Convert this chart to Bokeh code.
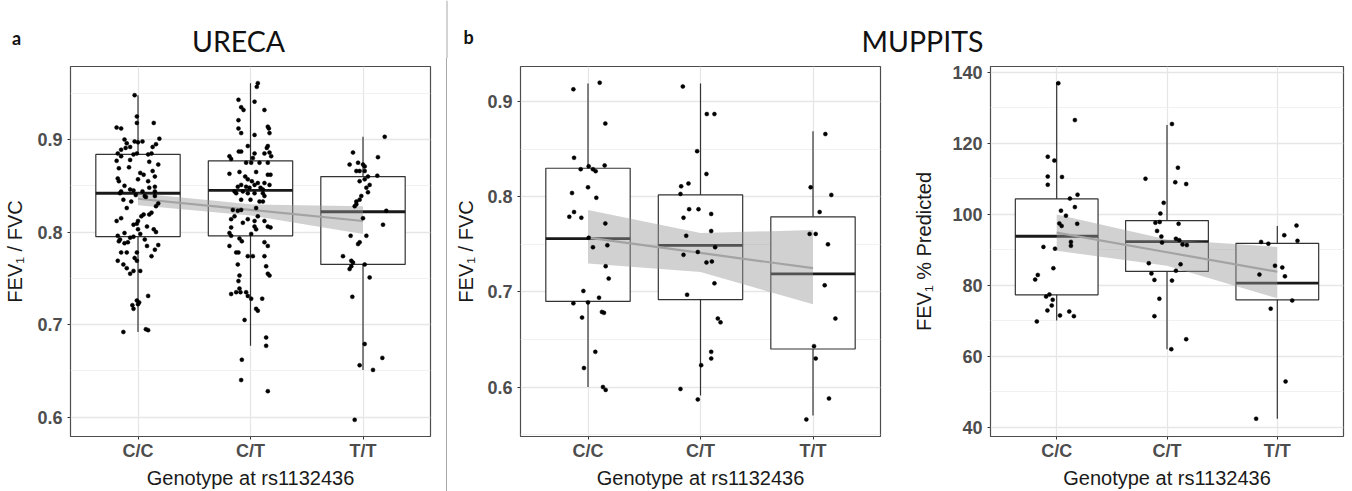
from bokeh.plotting import figure
from bokeh.layouts import row, column
from bokeh.models import Range1d, FixedTicker, Div
from bokeh.core.properties import value
from bokeh.embed import file_html
from bokeh.resources import INLINE

genotypes = ["C/C", "C/T", "T/T"]

# ---------------- URECA FEV1/FVC ----------------
ureca_cc_y = [0.948, 0.913, 0.912, 0.925, 0.918, 0.918, 0.900, 0.896, 0.891, 0.898, 0.897, 0.892, 0.898, 0.892,
              0.895, 0.901, 0.885, 0.882, 0.884, 0.885, 0.884, 0.885, 0.877, 0.878, 0.873, 0.864, 0.857, 0.858,
              0.855, 0.866, 0.860, 0.855, 0.844, 0.842, 0.846, 0.845, 0.835, 0.844, 0.839, 0.844, 0.839, 0.831,
              0.828, 0.849, 0.833, 0.812, 0.812, 0.809, 0.817, 0.819, 0.819, 0.803, 0.808, 0.803, 0.800, 0.796,
              0.792, 0.790, 0.799, 0.794, 0.795, 0.792, 0.786, 0.789, 0.785, 0.778, 0.778, 0.778, 0.772, 0.769,
              0.774, 0.769, 0.765, 0.761, 0.758, 0.758, 0.755, 0.731, 0.726, 0.724, 0.722, 0.721, 0.717, 0.692,
              0.695, 0.694, 0.870, 0.862, 0.850, 0.848, 0.840, 0.838, 0.826, 0.821, 0.815, 0.806, 0.798, 0.788,
              0.781, 0.876, 0.889, 0.869]
ureca_cc_dx = [-0.03, -0.19, -0.15, -0.01, -0.01, 0.14, -0.12, -0.10, -0.11, -0.03, 0.00, -0.07, 0.04, 0.13,
               0.16, 0.19, -0.18, -0.15, -0.04, -0.01, 0.09, 0.12, -0.19, -0.07, 0.18, 0.02, 0.00, -0.18,
               -0.17, 0.13, 0.15, 0.09, -0.15, -0.16, -0.07, -0.04, -0.13, 0.04, 0.06, 0.15, 0.15, 0.18,
               0.16, 0.15, -0.06, -0.19, 0.00, -0.01, 0.03, 0.05, 0.10, 0.00, -0.04, 0.14, 0.16, -0.18,
               -0.16, -0.17, -0.12, -0.07, -0.04, 0.06, 0.18, -0.09, 0.08, -0.15, -0.10, -0.01, -0.03, -0.01,
               0.12, -0.18, -0.13, -0.10, -0.04, 0.02, -0.07, 0.09, -0.01, 0.01, 0.00, -0.05, -0.04, -0.13,
               0.07, 0.09, -0.08, 0.05, -0.12, 0.10, -0.02, 0.07, -0.10, 0.12, -0.15, 0.08, 0.02, -0.12,
               0.15, 0.10, -0.15, -0.17]
ureca_ct_y = [0.961, 0.957, 0.943, 0.941, 0.935, 0.932, 0.932, 0.921, 0.914, 0.912, 0.907, 0.912, 0.907, 0.905,
              0.893, 0.893, 0.891, 0.882, 0.879, 0.887, 0.887, 0.885, 0.885, 0.886, 0.882, 0.880, 0.875, 0.875,
              0.875, 0.875, 0.863, 0.865, 0.860, 0.862, 0.862, 0.865, 0.857, 0.855, 0.851, 0.849, 0.851, 0.853,
              0.853, 0.851, 0.849, 0.848, 0.848, 0.846, 0.844, 0.842, 0.844, 0.842, 0.842, 0.839, 0.842, 0.835,
              0.835, 0.833, 0.833, 0.824, 0.823, 0.824, 0.826, 0.814, 0.812, 0.817, 0.814, 0.805, 0.810, 0.806,
              0.803, 0.806, 0.805, 0.812, 0.817, 0.799, 0.796, 0.793, 0.790, 0.798, 0.789, 0.785, 0.785, 0.778,
              0.778, 0.774, 0.774, 0.774, 0.765, 0.763, 0.753, 0.755, 0.753, 0.747, 0.739, 0.735, 0.735, 0.733,
              0.735, 0.731, 0.728, 0.728, 0.717, 0.715, 0.705, 0.686, 0.677, 0.662, 0.640, 0.628]
ureca_ct_dx = [0.065, 0.056, -0.107, 0.036, -0.083, -0.062, 0.124, -0.107, 0.154, 0.163, 0.169, -0.107, -0.083,
               0.036, -0.024, 0.154, 0.145, -0.187, -0.172, -0.104, -0.083, 0.036, 0.124, 0.169, 0.184, 0.021,
               -0.039, 0.006, 0.080, 0.154, -0.187, -0.098, -0.047, 0.154, 0.178, 0.050, -0.024, 0.012, -0.083,
               -0.113, 0.036, 0.065, 0.124, 0.169, -0.039, -0.009, 0.089, 0.110, -0.142, -0.127, -0.068, -0.024,
               0.110, 0.124, 0.036, -0.083, 0.000, 0.080, 0.110, -0.157, -0.113, -0.083, 0.050, -0.024, 0.036,
               -0.142, -0.172, -0.172, -0.068, 0.036, 0.050, 0.154, 0.178, 0.124, 0.065, -0.187, -0.172, -0.098,
               -0.077, 0.006, 0.124, 0.154, -0.187, -0.127, -0.107, 0.124, -0.024, 0.021, -0.113, 0.139, -0.098,
               0.154, 0.169, -0.107, -0.098, -0.089, -0.127, -0.172, -0.039, -0.024, 0.006, 0.104, 0.050, 0.065,
               -0.053, 0.139, 0.139, -0.077, -0.083, 0.154]
ureca_tt_y = [0.903, 0.886, 0.881, 0.873, 0.875, 0.873, 0.871, 0.866, 0.866, 0.866, 0.860, 0.861, 0.855, 0.857,
              0.851, 0.848, 0.843, 0.839, 0.835, 0.833, 0.830, 0.828, 0.823, 0.815, 0.808, 0.796, 0.796, 0.789,
              0.787, 0.774, 0.769, 0.767, 0.765, 0.763, 0.760, 0.751, 0.730, 0.679, 0.656, 0.651, 0.664, 0.597]
ureca_tt_dx = [0.193, -0.089, 0.133, -0.119, -0.044, 0.000, 0.015, -0.059, -0.030, 0.015, 0.044, 0.127, -0.030,
               0.015, 0.059, 0.030, 0.044, -0.015, -0.030, -0.059, -0.059, -0.074, 0.207, 0.000, 0.178, -0.110,
               0.030, -0.030, -0.044, -0.178, -0.104, -0.089, 0.015, -0.104, -0.119, 0.059, -0.095, 0.015,
               -0.030, 0.089, 0.172, -0.074]
# box statistics per genotype: lower whisker, Q1, median, Q3, upper whisker
ureca_lo = [0.692, 0.677, 0.651]
ureca_q1 = [0.795, 0.796, 0.765]
ureca_med = [0.842, 0.845, 0.822]
ureca_q3 = [0.884, 0.877, 0.860]
ureca_hi = [0.948, 0.961, 0.903]
# linear fit and 95% band at each genotype
ureca_fit = [0.836, 0.824, 0.812]
ureca_fit_lo = [0.829, 0.818, 0.798]
ureca_fit_hi = [0.842, 0.830, 0.828]

# ---------------- MUPPITS FEV1/FVC ----------------
mup_cc_y = [0.913, 0.920, 0.877, 0.841, 0.829, 0.832, 0.829, 0.827, 0.833, 0.804, 0.810, 0.799, 0.779, 0.784,
            0.778, 0.772, 0.757, 0.747, 0.749, 0.727, 0.714, 0.701, 0.694, 0.688, 0.689, 0.679, 0.678, 0.673,
            0.637, 0.620, 0.600, 0.597]
mup_cc_dx = [-0.130, 0.104, 0.154, -0.124, -0.065, 0.006, 0.044, 0.068, 0.148, -0.142, 0.000, 0.074, -0.166,
             -0.124, -0.059, 0.154, 0.006, 0.044, 0.172, 0.157, 0.184, -0.041, 0.098, -0.130, 0.000, 0.124,
             0.142, -0.053, 0.065, -0.036, 0.133, 0.157]
mup_ct_y = [0.916, 0.887, 0.887, 0.848, 0.824, 0.814, 0.811, 0.803, 0.787, 0.787, 0.778, 0.782, 0.759, 0.764,
            0.742, 0.739, 0.747, 0.731, 0.732, 0.709, 0.697, 0.672, 0.668, 0.637, 0.630, 0.623, 0.598, 0.587]
mup_ct_dx = [-0.157, 0.056, 0.124, -0.030, 0.053, -0.107, -0.172, -0.178, -0.101, -0.018, -0.151, 0.095,
             -0.127, 0.095, -0.024, -0.151, 0.130, 0.053, 0.101, 0.124, -0.119, 0.154, 0.178, 0.095, 0.095,
             0.006, -0.178, -0.024]
mup_tt_y = [0.866, 0.810, 0.802, 0.784, 0.761, 0.761, 0.750, 0.707, 0.672, 0.643, 0.630, 0.588, 0.566]
mup_tt_dx = [0.110, -0.021, 0.163, 0.059, -0.030, 0.024, 0.133, 0.104, 0.199, 0.009, 0.024, 0.142, -0.059]
mup_lo = [0.600, 0.591, 0.570]
mup_q1 = [0.690, 0.692, 0.640]
mup_med = [0.756, 0.749, 0.719]
mup_q3 = [0.830, 0.802, 0.779]
mup_hi = [0.919, 0.919, 0.869]
mup_fit = [0.757, 0.741, 0.725]
mup_fit_lo = [0.730, 0.721, 0.687]
mup_fit_hi = [0.786, 0.762, 0.765]

# ---------------- MUPPITS FEV1 % predicted ----------------
pp_cc_y = [136.9, 126.5, 116.2, 115.1, 110.6, 110.5, 108.3, 105.5, 104.4, 102.0, 101.0, 99.6, 97.4, 96.7, 97.3,
           92.2, 91.1, 90.8, 90.3, 84.8, 82.9, 81.6, 76.8, 77.4, 75.9, 74.3, 72.9, 71.5, 72.6, 71.3, 69.8]
pp_cc_dx = [0.015, 0.165, -0.081, -0.021, -0.081, 0.048, -0.081, 0.189, 0.120, 0.165, 0.039, 0.084, 0.024,
            0.045, 0.186, 0.129, 0.129, -0.120, -0.015, -0.030, -0.171, -0.195, -0.096, -0.066, -0.036, -0.045,
            -0.084, 0.030, 0.114, 0.156, -0.180]
pp_ct_y = [125.4, 110.0, 113.1, 109.0, 108.5, 103.2, 100.2, 97.6, 97.8, 97.3, 95.3, 93.7, 92.0, 93.1, 92.7, 91.5,
           91.3, 86.2, 85.9, 83.3, 81.5, 84.1, 81.3, 76.2, 71.3, 64.8, 62.0]
pp_ct_dx = [0.045, -0.195, 0.099, 0.075, 0.174, -0.030, -0.060, -0.105, -0.066, 0.105, -0.090, -0.051, -0.045,
            0.081, 0.111, 0.141, 0.180, -0.165, 0.123, -0.141, -0.114, 0.081, 0.045, -0.069, -0.114, 0.174, 0.039]
pp_tt_y = [96.8, 94.1, 92.2, 91.7, 92.5, 85.5, 85.0, 83.0, 82.5, 75.7, 73.4, 52.9, 42.4]
pp_tt_dx = [0.174, 0.063, -0.147, -0.081, 0.183, -0.021, 0.045, -0.162, 0.069, 0.135, -0.060, 0.075, -0.192]
pp_lo = [70.1, 62.0, 42.4]
pp_q1 = [77.3, 83.9, 75.9]
pp_med = [93.8, 92.3, 80.6]
pp_q3 = [104.3, 98.2, 91.8]
pp_hi = [137.2, 125.1, 96.7]
pp_fit = [94.8, 89.3, 83.8]
pp_fit_lo = [89.7, 85.5, 76.3]
pp_fit_hi = [99.9, 92.9, 90.8]

ratio_ticks_a = [0.6, 0.7, 0.8, 0.9]
ratio_minor_a = [0.55, 0.65, 0.75, 0.85, 0.95]
ratio_ticks_b = [0.6, 0.7, 0.8, 0.9]
ratio_minor_b = [0.55, 0.65, 0.75, 0.85, 0.95]
pp_ticks = [40, 60, 80, 100, 120, 140]
pp_minor = [50, 70, 90, 110, 130]

TICK_FONT = "Arial"
FIG_H = 433
HDR_H = 58


def panel(width, mbl, mbr, yr, ticks, minor, ylabel, groups, lo, q1, med, q3, hi, fit, fit_lo, fit_hi,
          label_standoff):
    p = figure(width=width, height=FIG_H, x_range=Range1d(0.4, 3.6), y_range=Range1d(*yr),
               output_backend="svg", toolbar_location=None,
               min_border_left=mbl, min_border_right=mbr, min_border_top=8, min_border_bottom=52)
    p.background_fill_color = "white"
    p.border_fill_color = "white"
    p.outline_line_color = "#4d4d4d"
    p.outline_line_width = 1.2

    xs = [i + 1 for i in range(len(genotypes))]
    # grids
    p.xgrid.ticker = FixedTicker(ticks=xs)
    p.xgrid.grid_line_color = "#e6e6e6"
    p.xgrid.grid_line_width = 1.3
    p.ygrid.ticker = FixedTicker(ticks=ticks, minor_ticks=minor)
    p.ygrid.grid_line_color = "#e6e6e6"
    p.ygrid.grid_line_width = 1.3
    p.ygrid.minor_grid_line_color = "#efefef"
    p.ygrid.minor_grid_line_width = 0.9

    # axes
    p.xaxis.ticker = FixedTicker(ticks=xs)
    p.xaxis.major_label_overrides = {x: g for x, g in zip(xs, genotypes)}
    p.yaxis.ticker = FixedTicker(ticks=ticks)
    p.xaxis.axis_label = "Genotype at rs1132436"
    p.yaxis.axis_label = ylabel
    for ax in (p.xaxis[0], p.yaxis[0]):
        ax.axis_line_color = None
        ax.major_tick_line_color = "#333333"
        ax.major_tick_in = 0
        ax.major_tick_out = 3
        ax.minor_tick_line_color = None
        ax.major_label_text_font = TICK_FONT
        ax.major_label_text_font_style = "bold"
        ax.major_label_text_font_size = "18px"
        ax.major_label_text_color = "#4d4d4d"
        ax.axis_label_text_font = TICK_FONT
        ax.axis_label_text_font_style = "normal"
        ax.axis_label_text_font_size = "20px"
        ax.axis_label_text_color = "#1a1a1a"
    p.xaxis.major_label_standoff = 1
    p.xaxis.axis_label_standoff = 3
    p.yaxis.major_label_standoff = 5
    p.yaxis.axis_label_standoff = label_standoff

    # boxes
    p.vbar(x=xs, top=q3, bottom=q1, width=0.75, fill_color="white", line_color="#333333", line_width=1.2)
    p.segment(x0=xs, y0=q3, x1=xs, y1=hi, line_color="#333333", line_width=1.2)
    p.segment(x0=xs, y0=q1, x1=xs, y1=lo, line_color="#333333", line_width=1.2)
    p.segment(x0=[x - 0.375 for x in xs], y0=med, x1=[x + 0.375 for x in xs], y1=med,
              line_color="#1a1a1a", line_width=2.8)

    # regression band and line
    p.varea(x=xs, y1=fit_lo, y2=fit_hi, fill_color="#999999", fill_alpha=0.45)
    p.line(x=xs, y=fit, line_color="#a3a3a3", line_width=2.2)

    # jittered points
    for i, (yv, dx) in enumerate(groups):
        p.scatter(x=[xs[i] + d for d in dx], y=yv, size=4.0, fill_color="black", line_color="black",
                  line_width=0.5)
    return p


pA = panel(446, 70, 16, (0.579, 0.979), ratio_ticks_a, ratio_minor_a, "FEV\u2081 / FVC",
           [(ureca_cc_y, ureca_cc_dx), (ureca_ct_y, ureca_ct_dx), (ureca_tt_y, ureca_tt_dx)],
           ureca_lo, ureca_q1, ureca_med, ureca_q3, ureca_hi, ureca_fit, ureca_fit_lo, ureca_fit_hi, 8)
pB1 = panel(463, 73, 30, (0.548, 0.937), ratio_ticks_b, ratio_minor_b, "FEV\u2081 / FVC",
            [(mup_cc_y, mup_cc_dx), (mup_ct_y, mup_ct_dx), (mup_tt_y, mup_tt_dx)],
            mup_lo, mup_q1, mup_med, mup_q3, mup_hi, mup_fit, mup_fit_lo, mup_fit_hi, 7)
pB2 = panel(442, 77, 9, (37.4, 141.6), pp_ticks, pp_minor, "FEV\u2081 % Predicted",
            [(pp_cc_y, pp_cc_dx), (pp_ct_y, pp_ct_dx), (pp_tt_y, pp_tt_dx)],
            pp_lo, pp_q1, pp_med, pp_q3, pp_hi, pp_fit, pp_fit_lo, pp_fit_hi, 14)

# header with panel letters, titles and separator
hdr = figure(width=1352, height=HDR_H, x_range=Range1d(0, 1352), y_range=Range1d(0, HDR_H),
             output_backend="svg", toolbar_location=None, min_border=0,
             x_axis_location=None, y_axis_location=None)
hdr.grid.visible = False
hdr.outline_line_color = None
hdr.background_fill_color = "white"
hdr.border_fill_color = "white"
hdr.text(x=[16, 468], y=[21, 22], text=["a", "b"], text_font=value("Lato"), text_font_style="bold",
         text_font_size="18px", text_align="center", text_baseline="middle", text_color="#111111")
hdr.text(x=[238, 922], y=[18, 18], text=["URECA", "MUPPITS"], text_font=value("Lato"),
         text_font_size="28.5px", text_align="center", text_baseline="middle", text_color="#111111")
hdr.segment(x0=[446.5], y0=[0], x1=[446.5], y1=[HDR_H], line_color="#a8a8a8", line_width=1)

sep = Div(text="", width=1, height=FIG_H, margin=0, styles={"background-color": "#a8a8a8"})

layout = column(hdr, row(pA, sep, pB1, pB2, spacing=0), spacing=0)
open("out.html", "w").write(file_html(layout, INLINE))
